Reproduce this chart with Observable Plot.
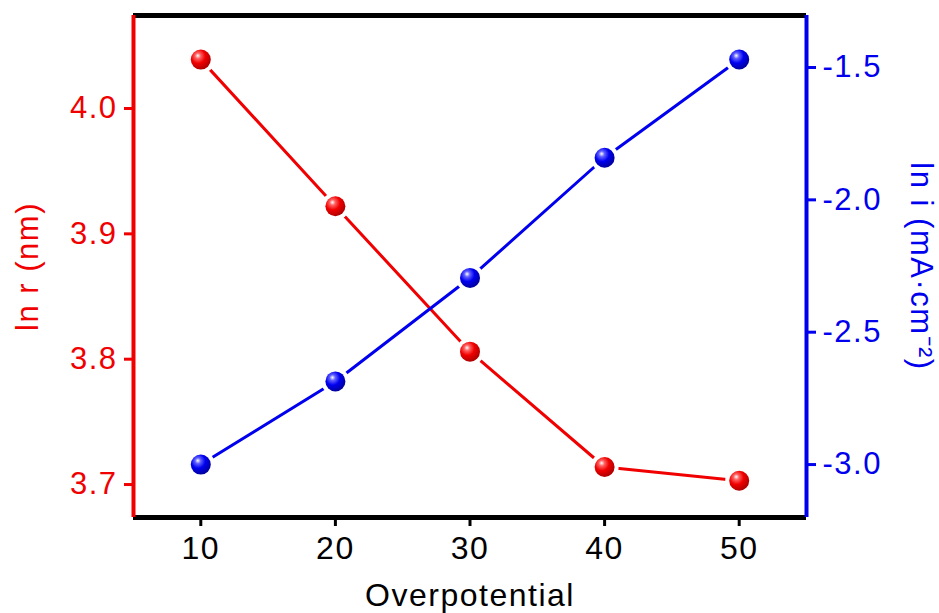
<!DOCTYPE html>
<html>
<head>
<meta charset="utf-8">
<script src="https://cdn.jsdelivr.net/npm/d3@7"></script>
<script src="https://cdn.jsdelivr.net/npm/@observablehq/plot@0.6"></script>
<style>
  html, body { margin: 0; padding: 0; background: #fff; }
  svg text { letter-spacing: 1.5px; }
</style>
</head>
<body>
<div id="chart"></div>
<script>
// Data
const overpotential = [10, 20, 30, 40, 50];
const lnR = [4.039, 3.922, 3.806, 3.714, 3.703];
const lnI = [-3.0, -2.686, -2.295, -1.841, -1.470];
const xTicks = [10, 20, 30, 40, 50];
const rTicks = [3.7, 3.8, 3.9, 4.0];
const iTicks = [-3.0, -2.5, -2.0, -1.5];

const xDomain = [5, 55];
const rDomain = [3.6737, 4.0742];
const iDomain = [-3.2, -1.3036];

const RED = "#f00000";
const BLUE = "#0000ee";

// map the right-axis (ln i) values into the left-axis scale
const toR = d3.scaleLinear().domain(iDomain).range(rDomain);

const data = overpotential.map((x, k) => ({x, r: lnR[k], i: toR(lnI[k])}));

const plot = Plot.plot({
  width: 939,
  height: 613,
  marginLeft: 133,
  marginRight: 133,
  marginTop: 15,
  marginBottom: 96,
  style: {fontFamily: "'Liberation Sans', Arial, sans-serif", fontSize: "31px", background: "#fff"},
  x: {domain: xDomain},
  y: {domain: rDomain},
  marks: [
    Plot.axisX({ticks: xTicks, tickSize: 9, tickPadding: 10, strokeWidth: 3, color: "#000",
      label: "Overpotential", labelAnchor: "center", labelArrow: "none", labelOffset: 88, fontSize: 32}),
    Plot.axisY({anchor: "left", ticks: rTicks, tickFormat: d => d.toFixed(1), tickSize: 9, tickPadding: 7,
      strokeWidth: 3, color: RED, label: "ln r (nm)", labelAnchor: "center", labelArrow: "none",
      labelOffset: 118, fontSize: 31}),
    Plot.axisY({anchor: "right", ticks: iTicks.map(toR), tickFormat: d => toR.invert(d).toFixed(1),
      tickSize: 9, tickPadding: 7, strokeWidth: 3, color: BLUE,
      label: "ln i (mA·cm⁻²)", labelAnchor: "center", labelArrow: "none", labelOffset: 104, fontSize: 31}),
    // frame
    Plot.ruleY([rDomain[1]], {stroke: "#000", strokeWidth: 5}),
    Plot.ruleY([rDomain[0]], {stroke: "#000", strokeWidth: 5}),
    Plot.ruleX([xDomain[0]], {stroke: RED, strokeWidth: 4}),
    Plot.ruleX([xDomain[1]], {stroke: BLUE, strokeWidth: 4}),
    // series lines
    Plot.line(data, {x: "x", y: "r", stroke: RED, strokeWidth: 3}),
    Plot.line(data, {x: "x", y: "i", stroke: BLUE, strokeWidth: 3}),
    // white halos, then spheres
    Plot.dot(data, {x: "x", y: "r", r: 14, fill: "#fff"}),
    Plot.dot(data, {x: "x", y: "i", r: 14, fill: "#fff"}),
    Plot.dot(data, {x: "x", y: "r", r: 10, fill: "url(#sphereRed)"}),
    Plot.dot(data, {x: "x", y: "i", r: 10, fill: "url(#sphereBlue)"})
  ]
});

// right-axis title reads top-to-bottom in the reference
d3.select(plot).selectAll("text").each(function () {
  const t = d3.select(this);
  if (t.text().startsWith("ln i")) {
    const tr = t.attr("transform") || "";
    t.attr("transform", tr.replace("rotate(-90)", "rotate(90)"));
    t.attr("dy", null);
  }
});

// sphere gradients
const defs = d3.select(plot).insert("defs", ":first-child");
function grad(id, light, mid, dark) {
  const g = defs.append("radialGradient").attr("id", id)
    .attr("cx", "38%").attr("cy", "35%").attr("r", "65%").attr("fx", "35%").attr("fy", "30%");
  g.append("stop").attr("offset", "0%").attr("stop-color", "#fff");
  g.append("stop").attr("offset", "22%").attr("stop-color", light);
  g.append("stop").attr("offset", "55%").attr("stop-color", mid);
  g.append("stop").attr("offset", "100%").attr("stop-color", dark);
}
grad("sphereRed", "#ff6060", "#f00000", "#b00000");
grad("sphereBlue", "#6060ff", "#0000f0", "#0000a0");

document.getElementById("chart").appendChild(plot);
</script>
</body>
</html>
